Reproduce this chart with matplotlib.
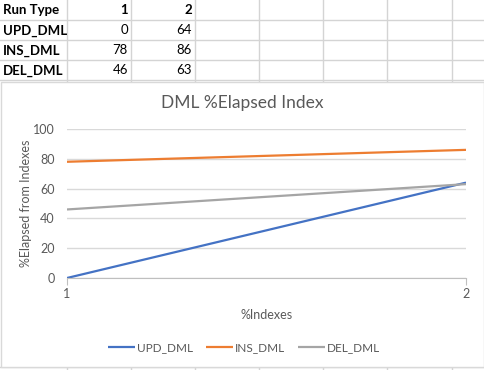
import matplotlib
matplotlib.use("Agg")
import matplotlib.pyplot as plt
from matplotlib.patches import Rectangle

plt.rcParams['font.family'] = ['Lato', 'DejaVu Sans']

# ---- data ----
header = "Run Type"
runs = [1, 2]
series_names = ["UPD_DML", "INS_DML", "DEL_DML"]
upd = [0, 64]
ins = [78, 86]
dele = [46, 63]
series_values = [upd, ins, dele]
colors = ["#4472C4", "#ED7D31", "#A5A5A5"]
y_ticks = [0, 20, 40, 60, 80, 100]
title = "DML %Elapsed Index"
xlabel = "%Indexes"
ylabel = "%Elapsed from Indexes"

W, H = 485, 370
fig = plt.figure(figsize=(W / 100, H / 100), dpi=100)

# background sheet axes in pixel coordinates
bg = fig.add_axes([0, 0, 1, 1])
bg.set_xlim(0, W)
bg.set_ylim(H, 0)
bg.axis("off")

grid_c = "#D4D4D4"
col_x = [67, 131, 195, 259, 323, 387, 452]
row_y = [20, 40, 60, 80]
for x in col_x:
    bg.plot([x, x], [0, H], color=grid_c, lw=1)
for y in row_y:
    bg.plot([0, W], [y, y], color=grid_c, lw=1)
bg.plot([0, W], [367, 367], color=grid_c, lw=1)

# table text
tfs = 9.5
bg.text(3, 10.5, header, fontsize=tfs, fontweight="bold", va="center", ha="left")
for j, r in enumerate(runs):
    bg.text(col_x[j + 1] - 3, 10.5, str(r), fontsize=tfs, fontweight="bold",
            va="center", ha="right")
for i, (name, vals) in enumerate(zip(series_names, series_values)):
    yc = 30.5 + 20 * i
    bg.text(3, yc, name, fontsize=tfs, fontweight="bold", va="center", ha="left")
    for j, v in enumerate(vals):
        bg.text(col_x[j + 1] - 3, yc, str(v), fontsize=tfs, va="center", ha="right")

# chart box
bg.add_patch(Rectangle((1, 82), 483, 285, facecolor="white", edgecolor="#D9D9D9",
                       lw=1, zorder=5))

# title
bg.text(242.5, 103, title, fontsize=12.5, color="#595959", ha="center", va="center", zorder=6)

# plot axes
px0, px1, py0, py1 = 67, 466, 129, 278
ax = fig.add_axes([px0 / W, 1 - py1 / H, (px1 - px0) / W, (py1 - py0) / H], zorder=10)
ax.patch.set_alpha(0)
for name, vals, c in zip(series_names, series_values, colors):
    ax.plot(runs, vals, color=c, lw=1.6, label=name, solid_capstyle="butt")
ax.set_xlim(runs[0], runs[-1])
ax.set_ylim(0, 100)
ax.set_yticks(y_ticks)
ax.set_xticks(runs)
ax.grid(axis="y", color="#D9D9D9", lw=1)
ax.set_axisbelow(True)
for s in ["top", "right", "left"]:
    ax.spines[s].set_visible(False)
ax.spines["bottom"].set_color("#BFBFBF")
lfs = 9
ax.tick_params(axis="y", length=0, labelsize=lfs, labelcolor="#595959", pad=9)
ax.tick_params(axis="x", length=5, color="#BFBFBF", labelsize=lfs,
               labelcolor="#595959", pad=2)
ax.set_xlabel(xlabel, fontsize=lfs, color="#595959")
ax.xaxis.set_label_coords(0.499, -0.205)
ax.set_ylabel(ylabel, fontsize=lfs, color="#595959")
ax.yaxis.set_label_coords(-0.088, 0.5)

leg = ax.legend(loc="center", bbox_to_anchor=((244 - px0) / (px1 - px0), -(348 - py1) / (py1 - py0)),
                ncol=3, frameon=False, fontsize=8.5, handlelength=2.3,
                columnspacing=1.1, handletextpad=0.15)
for t in leg.get_texts():
    t.set_color("#595959")

fig.savefig("out.png", dpi=100)
